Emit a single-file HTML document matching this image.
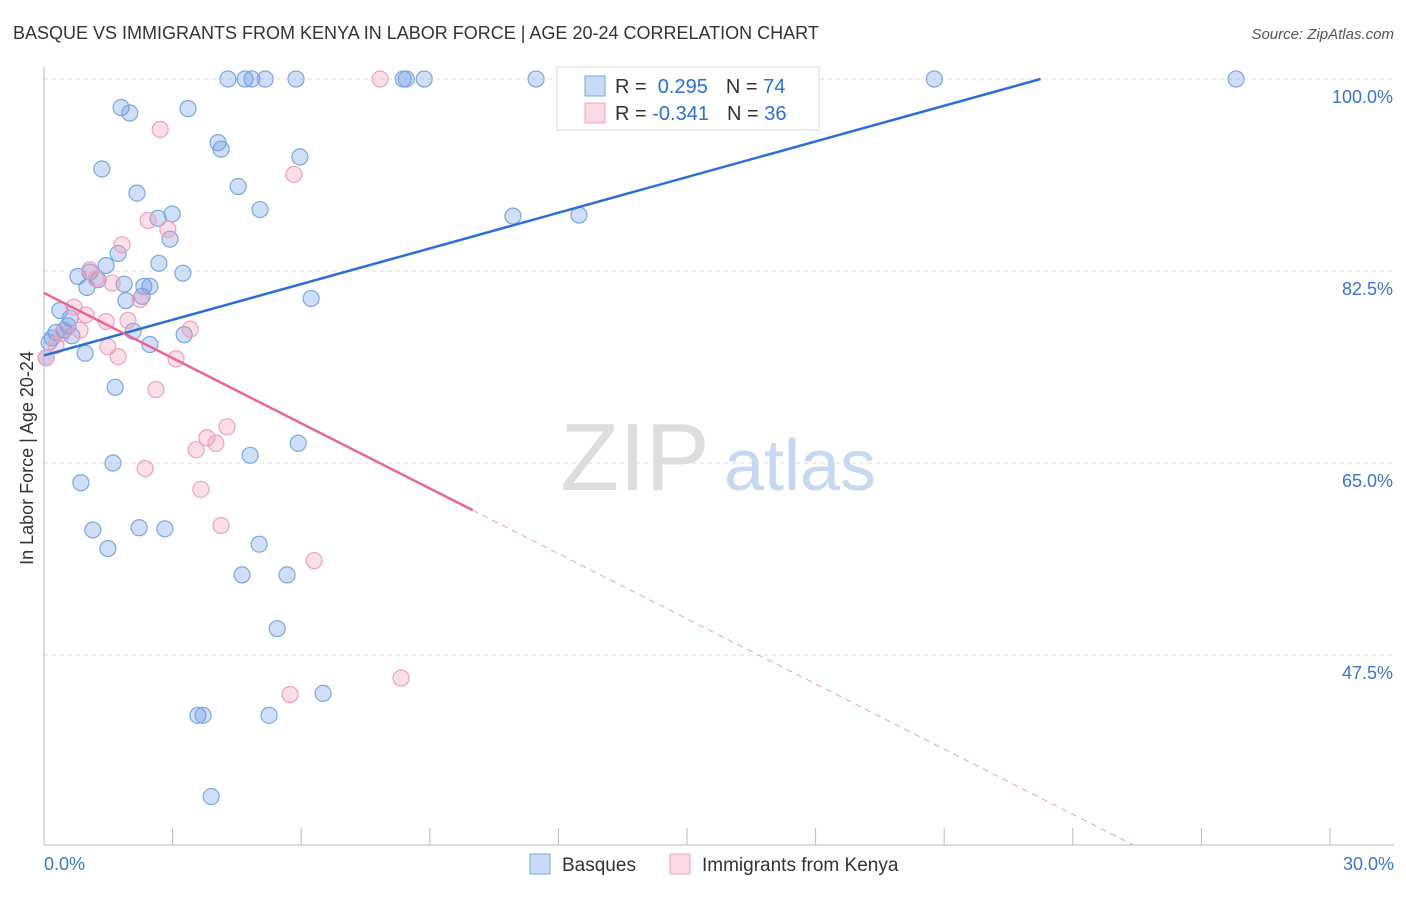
<!DOCTYPE html>
<html><head><meta charset="utf-8"><style>
body{margin:0;background:#fff;font-family:"Liberation Sans",sans-serif;}
svg text{font-family:"Liberation Sans",sans-serif;}
</style></head><body>
<svg id="chart" width="1406" height="892">
<text x="13" y="39" font-size="18" fill="#333">BASQUE VS IMMIGRANTS FROM KENYA IN LABOR FORCE | AGE 20-24 CORRELATION CHART</text>
<text x="1394" y="39" font-size="15" fill="#555" text-anchor="end" font-style="italic">Source: ZipAtlas.com</text>
<text x="33" y="458" font-size="18" fill="#333" text-anchor="middle" transform="rotate(-90 33 458)">In Labor Force | Age 20-24</text>
<g><text x="635" y="490" font-size="96" fill="#ddd" text-anchor="middle" font-family="Liberation Serif,serif">ZIP</text><text x="800" y="490" font-size="72" fill="#c8d8f0" text-anchor="middle">atlas</text></g>
<g id="grid"></g><g id="axes"></g><g id="pts"></g><g id="lines"></g>
<g>
<rect x="557" y="67" width="262" height="63" fill="#fff" stroke="#ddd"/>
<rect x="585" y="76" width="20" height="20" fill="rgba(100,150,230,0.35)" stroke="#7aa7e0"/>
<rect x="585" y="103" width="20" height="20" fill="rgba(240,150,180,0.35)" stroke="#f0a0bc"/>
<text x="615" y="93" font-size="20" fill="#333">R = <tspan fill="#2a6fd6">&#160;0.295</tspan><tspan dx="18">N = </tspan><tspan fill="#2a6fd6">74</tspan></text>
<text x="615" y="120" font-size="20" fill="#333">R = <tspan fill="#2a6fd6">-0.341</tspan><tspan dx="18">N = </tspan><tspan fill="#2a6fd6">36</tspan></text>
</g>
<g>
<rect x="530" y="854" width="20" height="20" fill="rgba(100,150,230,0.35)" stroke="#7aa7e0"/>
<text x="562" y="871" font-size="19" fill="#333">Basques</text>
<rect x="670" y="854" width="20" height="20" fill="rgba(240,150,180,0.35)" stroke="#f0a0bc"/>
<text x="702" y="871" font-size="19" fill="#333">Immigrants from Kenya</text>
</g>
</svg>
<script>
const yTicks=[100,82.5,65,47.5];
const xTickLabels=["0.0%","30.0%"];
const blueX=[4.29,4.69,4.85,5.16,5.88,8.38,8.45,8.87,11.48,20.77,27.81,1.80,2.00,3.36,4.06,4.13,5.97,1.35,4.53,2.17,5.04,2.99,2.66,10.94,12.48,2.94,1.73,1.45,2.68,3.24,0.79,1.07,1.26,1.00,1.87,2.33,2.47,2.29,1.91,6.23,0.37,0.61,0.56,0.47,0.28,0.19,0.12,0.65,2.08,3.27,2.47,0.96,0.05,1.66,5.93,4.81,1.61,0.86,1.14,2.22,2.82,1.49,5.02,4.62,5.67,5.44,6.51,3.59,3.71,5.25,3.90];
const blueY=[100,100,100,100,100,100,100,100,100,100,100,97.4,96.9,97.3,94.2,93.6,92.9,91.8,90.2,89.6,88.1,87.7,87.3,87.5,87.6,85.4,84.1,83.0,83.2,82.3,82.0,82.4,81.7,81.0,81.3,81.1,81.1,80.2,79.8,80.0,78.9,78.2,77.5,77.1,76.9,76.4,76.0,76.6,77.0,76.7,75.8,75.0,74.6,71.9,66.8,65.7,65.0,63.2,58.9,59.1,59.0,57.2,57.6,54.8,54.8,49.9,44.0,42.0,42.0,42.0,34.6];
const pinkX=[7.84,2.71,5.83,2.43,2.89,1.82,1.07,1.21,1.59,2.24,0.70,0.98,1.45,1.96,0.84,3.41,0.42,0.28,0.05,1.49,1.73,3.08,2.61,4.27,3.80,4.01,3.55,2.36,3.66,4.13,6.30,5.74,8.33];
const pinkY=[100,95.4,91.3,87.1,86.3,84.9,82.6,81.8,81.4,79.9,79.2,78.5,77.9,78.0,77.1,77.2,76.8,75.7,74.6,75.6,74.7,74.5,71.7,68.3,67.3,66.8,66.2,64.5,62.6,59.3,56.1,43.9,45.4];
const blueTrend=[74.8,1.084];   // intercept, slope
const pinkTrend=[80.5,-1.98];
const NS="http://www.w3.org/2000/svg";
const X=v=>44+v/30*1286, Y=v=>79+(100-v)/17.5*192;
function mk(p,t,a){const e=document.createElementNS(NS,t);for(const k in a)e.setAttribute(k,a[k]);document.getElementById(p).appendChild(e);return e;}
yTicks.forEach(t=>{
 const l=mk('grid','line',{x1:44,x2:1394,y1:Y(t),y2:Y(t),stroke:'#ddd','stroke-dasharray':'4 4'});
 
 
 const tx=mk('grid','text',{x:1393,y:Y(t)+24,'font-size':18,fill:'#3a74d0','text-anchor':'end'});tx.textContent=t.toFixed(1)+'%';
 
 
});
const ax=mk('axes','line',{x1:44,x2:44,y1:67,y2:845,stroke:'#bbb'});


const bx=mk('axes','line',{x1:44,x2:1394,y1:845,y2:845,stroke:'#bbb'});


for(let i=0;i<=10;i++){const t=mk('axes','line',{x1:X(i*3),x2:X(i*3),y1:828,y2:845,stroke:'#bbb'});
 
 }
[[0,'start',44],[30,'end',1394]].forEach((d,i)=>{const t=mk('axes','text',{x:d[2],y:870,'font-size':18,fill:'#3a74d0','text-anchor':d[1]});t.textContent=xTickLabels[i];
 
 });
blueX.forEach((v,i)=>{const c=mk('pts','circle',{cx:X(v),cy:Y(blueY[i]),r:8,fill:'rgba(100,150,230,0.3)',stroke:'#7aa7e0','stroke-width':1.2});
 
 });
pinkX.forEach((v,i)=>{const c=mk('pts','circle',{cx:X(v),cy:Y(pinkY[i]),r:8,fill:'rgba(240,150,180,0.3)',stroke:'#f0a0bc','stroke-width':1.2});
 
 });
const bEnd=(100-blueTrend[0])/blueTrend[1];
const bl=mk('lines','line',{x1:X(0),y1:Y(blueTrend[0]),x2:X(bEnd),y2:Y(100),stroke:'#2a6fd6','stroke-width':2.5});


const pf=p=>pinkTrend[0]+pinkTrend[1]*p;
const pEnd=(30.2-pinkTrend[0])/pinkTrend[1];
const pl=mk('lines','line',{x1:X(0),y1:Y(pf(0)),x2:X(10),y2:Y(pf(10)),stroke:'#e8668f','stroke-width':2.5});


const pd=mk('lines','line',{x1:X(10),y1:Y(pf(10)),x2:X(pEnd),y2:Y(pf(pEnd)),stroke:'#e8a0b8','stroke-width':1,'stroke-dasharray':'6 5'});


</script>
</body></html>
